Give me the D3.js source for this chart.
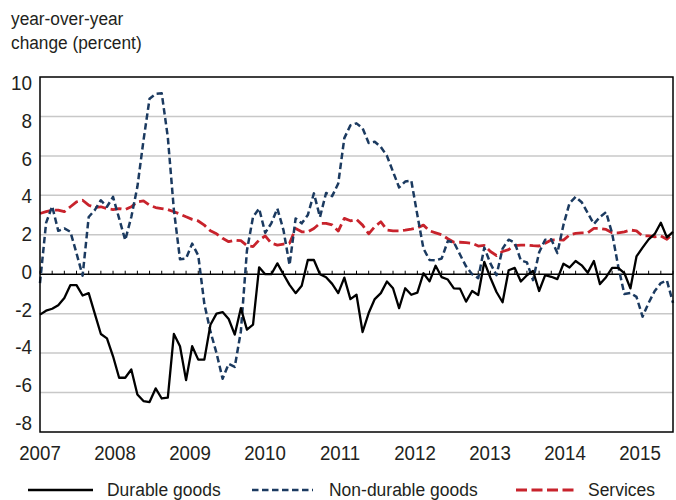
<!DOCTYPE html>
<html>
<head>
<meta charset="utf-8">
<script src="https://cdn.jsdelivr.net/npm/d3@7"></script>
<style>
  body { margin: 0; background: #fff; }
  svg text { font-family: "Liberation Sans", Arial, sans-serif; fill: #231f20; }
</style>
</head>
<body>
<svg id="chart" width="676" height="500"></svg>
<script>
// monthly, Jan 2007 onward (index = month)
const durable = [
  -2.05, -1.85, -1.75, -1.57, -1.2, -0.55, -0.55, -1.08, -0.96, -2.0,
  -3.03, -3.25, -4.16, -5.25, -5.25, -4.83, -6.1, -6.43, -6.48, -5.79,
  -6.3, -6.26, -3.03, -3.65, -5.37, -3.65, -4.33, -4.33, -2.56, -2.0,
  -1.92, -2.27, -3.06, -1.72, -2.81, -2.56, 0.35, 0, 0, 0.55,
  0, -0.54, -0.96, -0.59, 0.72, 0.72, 0, -0.15, -0.49, -0.96,
  -0.17, -1.26, -1.04, -2.93, -1.97, -1.26, -0.96, -0.37, -0.71, -1.72,
  -0.71, -1.04, -0.93, 0.05, -0.36, 0.43, -0.15, -0.27, -0.72, -0.73,
  -1.39, -0.85, -1.05, 0.63, -0.18, -0.9, -1.42, 0.2, 0.32, -0.37,
  -0.05, 0.17, -0.85, -0.05, -0.13, -0.25, 0.53, 0.34, 0.67, 0.45,
  0.08, 0.67, -0.5, -0.15, 0.32, 0.32, 0.06, -0.72, 0.9, 1.35,
  1.77, 2.04, 2.61, 1.87, 2.15
];
const nonDurable = [
  -0.45, 2.6, 3.45, 2.2, 2.32, 2.15, 1.06, -0.07, 2.9, 3.25,
  3.75, 3.42, 3.92, 2.83, 1.73, 2.9, 4.43, 6.78, 8.9, 9.14,
  9.17, 6.95, 3.25, 0.76, 0.8, 1.55, 0.95, -1.5, -2.9, -4.0,
  -5.3, -4.55, -4.7, -2.9, 1.2, 2.9, 3.33, 2.1, 2.58, 3.33,
  2.24, 0.47, 2.83, 2.58, 3.0, 4.1, 2.9, 4.12, 3.96, 4.6,
  6.9, 7.55, 7.65, 7.4, 6.65, 6.72, 6.45, 6.0, 5.2, 4.4,
  4.7, 4.75, 3.0, 1.3, 0.72, 0.7, 0.8, 1.68, 1.62, 1.0,
  0.4, 0.0, -0.2, 1.35, 0.55, -0.05, 1.3, 1.75, 1.6, 0.7,
  0.6, -0.3, 1.1, 1.75, 1.77, 1.07, 2.5, 3.6, 3.92, 3.65,
  3.1, 2.55, 2.9, 3.15, 2.07, 0.4, -1.0, -0.95, -1.15, -2.15,
  -1.45, -0.85, -0.45, -0.32, -1.45
];
const services = [
  3.08, 3.17, 3.25, 3.25, 3.17, 3.42, 3.67, 3.75, 3.5, 3.38,
  3.42, 3.33, 3.28, 3.33, 3.28, 3.42, 3.67, 3.72, 3.5, 3.38,
  3.33, 3.28, 3.17, 3.05, 2.91, 2.78, 2.7, 2.49, 2.2, 2.05,
  1.82, 1.65, 1.73, 1.7, 1.45, 1.4, 1.73, 1.94, 1.57, 1.48,
  1.53, 1.57, 2.32, 2.15, 2.15, 2.32, 2.58, 2.58, 2.5, 2.19,
  2.83, 2.71, 2.78, 2.49, 2.05, 2.41, 2.66, 2.24, 2.2, 2.2,
  2.24, 2.29, 2.35, 2.49, 2.2, 2.1, 2.0, 1.8, 1.62, 1.62,
  1.6, 1.57, 1.43, 1.46, 1.15, 0.95, 1.15, 1.25, 1.45, 1.48,
  1.48, 1.45, 1.43, 1.57, 1.73, 1.75, 1.73, 1.99, 2.07, 2.1,
  2.1, 2.32, 2.32, 2.27, 2.1, 2.1, 2.15, 2.24, 2.2, 1.94,
  1.94, 1.9, 1.94, 1.77, 2.07
];
const yearLabels = ["2007", "2008", "2009", "2010", "2011", "2012", "2013", "2014", "2015"];
const yTicks = [10, 8, 6, 4, 2, 0, -2, -4, -6, -8];
const gridValues = [8, 6, 4, 2, -2, -4, -6];

const svg = d3.select("#chart");
const plotL = 40, plotR = 673, plotT = 77, plotB = 432;

const x = d3.scaleLinear().domain([0, durable.length - 1]).range([plotL, plotR]);
const y = d3.scaleLinear().domain([-8, 10]).range([plotB, plotT]);
// labels in the original sit on their own spacing
const yLab = d3.scaleLinear().domain([10, -8]).range([83, 423]);
const xLab = d3.scaleLinear().domain([0, yearLabels.length - 1]).range([40, 640]);

// narrow-looking text: a bigger font squeezed sideways
function label(parent, tx, ty, str, size, anchor, squeeze) {
  return parent.append("g")
    .attr("transform", `translate(${tx},${ty}) scale(${squeeze},1)`)
    .append("text")
    .attr("text-anchor", anchor)
    .attr("font-size", size)
    .text(str);
}

// title
label(svg, 11, 25, "year-over-year", 19, "start", 0.91);
label(svg, 11, 49, "change (percent)", 19, "start", 0.91);

// gridlines
svg.append("g").selectAll("line").data(gridValues).join("line")
  .attr("x1", plotL).attr("x2", plotR)
  .attr("y1", d => y(d)).attr("y2", d => y(d))
  .attr("stroke", "#c8c8c8").attr("stroke-width", 1.5);

// y labels
const yg = svg.append("g");
yTicks.forEach(v => label(yg, 32, yLab(v) + 7, v, 19.5, "end", 0.97));

// x labels
const xg = svg.append("g");
yearLabels.forEach((t, i) => label(xg, xLab(i), 459.5, t, 21, "middle", 0.89));

// zero line with bi-monthly ticks
svg.append("line")
  .attr("x1", plotL).attr("x2", plotR).attr("y1", y(0)).attr("y2", y(0))
  .attr("stroke", "#000").attr("stroke-width", 1.5);
svg.append("g").selectAll("line").data(d3.range(0, durable.length, 2)).join("line")
  .attr("x1", d => x(d)).attr("x2", d => x(d))
  .attr("y1", y(0)).attr("y2", y(0) - 3.5)
  .attr("stroke", "#000").attr("stroke-width", 1);

const line = d3.line().x((d, i) => x(i)).y(d => y(d));

const series = [
  { name: "Durable goods", data: durable, color: "#000", width: 2.3, dash: null },
  { name: "Non-durable goods", data: nonDurable, color: "#1b3a60", width: 2.5, dash: "6.5,3.5" },
  { name: "Services", data: services, color: "#c8232c", width: 2.8, dash: "11,4.5" }
];

series.slice().reverse().forEach(s => {
  svg.append("path").datum(s.data)
    .attr("d", line)
    .attr("fill", "none")
    .attr("stroke", s.color)
    .attr("stroke-width", s.width)
    .attr("stroke-dasharray", s.dash)
    .attr("stroke-linejoin", "round");
});

// plot frame
svg.append("rect")
  .attr("x", plotL).attr("y", plotT).attr("width", plotR - plotL).attr("height", plotB - plotT)
  .attr("fill", "none").attr("stroke", "#000").attr("stroke-width", 1.5);

// legend
const legendPos = [{ x1: 28, x2: 93, tx: 107 }, { x1: 252, x2: 313, tx: 329 }, { x1: 516, x2: 577, tx: 588 }];
const lg = svg.append("g");
series.forEach((s, i) => {
  const p = legendPos[i];
  lg.append("line")
    .attr("x1", p.x1).attr("x2", p.x2).attr("y1", 490).attr("y2", 490)
    .attr("stroke", s.color).attr("stroke-width", s.width + 0.2)
    .attr("stroke-dasharray", s.dash);
  label(lg, p.tx, 496, s.name, 19, "start", 0.92);
});
</script>
</body>
</html>
